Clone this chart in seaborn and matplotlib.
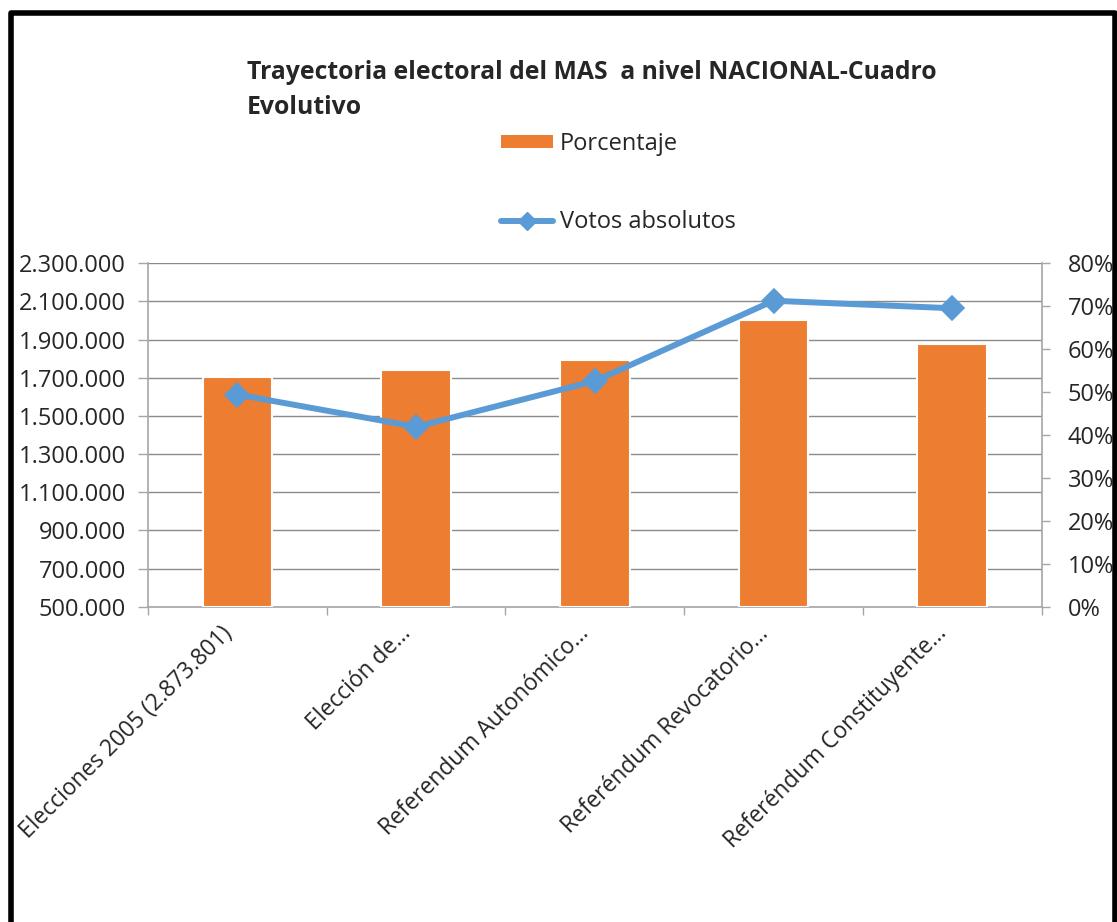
import matplotlib
matplotlib.use('Agg')
import matplotlib.pyplot as plt
import matplotlib.transforms as mtransforms
from matplotlib.lines import Line2D
from matplotlib.ticker import FuncFormatter
import seaborn as sns
import numpy as np

# data
categorias = [
    "Elecciones 2005 (2.873.801)",
    "Elección de…",
    "Referendum Autonómico…",
    "Referéndum Revocatorio…",
    "Referéndum Constituyente…",
]
porcentaje = [0.535, 0.551, 0.574, 0.669, 0.612]
votos = [1612000, 1443000, 1683000, 2103872, 2064397]

izq_ticks = list(range(500000, 2300001, 200000))
der_ticks = [i / 10 for i in range(0, 9)]

NARANJA = "#ED7D31"
AZUL = "#5B9BD5"
GRIS = "#A6A6A6"
GRID = "#8A8A8A"

sns.set_style("white")
plt.rcParams['font.family'] = ['Open Sans', 'DejaVu Sans']

fig = plt.figure(figsize=(11.17, 9.22), dpi=100)
ax = fig.add_axes([0.1325, 0.342, 0.80, 0.3724])
axb = ax.twinx()
axl = ax.twinx()

# bars (right axis, percent)
sns.barplot(x=categorias, y=porcentaje, ax=axb, color=NARANJA, width=0.39,
            saturation=1, edgecolor="white", linewidth=1.5)
# line (left axis, votes)
sns.pointplot(x=categorias, y=votos, ax=axl, color=AZUL, markers="D",
              markersize=10.5, linewidth=4.3)

# scales
ax.set_ylim(500000, 2300000)
axl.set_ylim(500000, 2300000)
axb.set_ylim(0, 0.8)
ax.set_xlim(-0.5, len(categorias) - 0.5)

# left axis with grid
ax.set_yticks(izq_ticks)
ax.yaxis.set_major_formatter(FuncFormatter(lambda v, p: f"{int(v):,}".replace(",", ".")))
ax.yaxis.grid(True, color=GRID, linewidth=1.0)
ax.tick_params(axis="y", which="major", length=7, width=1, color=GRIS,
               labelsize=17, pad=9, left=True)

# right axis
axb.set_yticks(der_ticks)
axb.yaxis.set_major_formatter(FuncFormatter(lambda v, p: f"{v:.0%}"))
axb.tick_params(axis="y", length=6, width=1, color=GRIS, labelsize=17, pad=13, right=True)
axb.set_ylabel("")
axl.set_yticks([])
axl.set_ylabel("")

# x axis: boundary ticks + rotated category labels
pos = np.arange(len(categorias))
ax.set_xticks(np.arange(-0.5, len(categorias)), [""] * (len(categorias) + 1))
ax.set_xticks(pos, categorias, minor=True)
ax.tick_params(axis="x", which="major", length=6, width=1, color=GRIS, bottom=True)
ax.tick_params(axis="x", which="minor", length=0, labelsize=16.4, pad=17)
offset = mtransforms.ScaledTranslation(-9 / 100, 0, fig.dpi_scale_trans)
for lab in ax.get_xticklabels(minor=True):
    lab.set_rotation(45)
    lab.set_ha("right")
    lab.set_va("center")
    lab.set_rotation_mode("anchor")
    lab.set_transform(lab.get_transform() + offset)

# spines
for a in (ax, axb, axl):
    for s in a.spines.values():
        s.set_visible(False)
ax.spines["left"].set_visible(True)
ax.spines["bottom"].set_visible(True)
axb.spines["right"].set_visible(True)
for s in (ax.spines["left"], ax.spines["bottom"], axb.spines["right"]):
    s.set_color(GRIS)
    s.set_linewidth(1.2)

# title
fig.text(247 / 1117, 1 - 60 / 922,
         "Trayectoria electoral del MAS  a nivel NACIONAL-Cuadro\nEvolutivo",
         ha="left", va="top", fontsize=17.8, fontweight="bold", linespacing=1.55)

# legend
handles = [
    plt.Rectangle((0, 0), 1, 1, facecolor=NARANJA, edgecolor="none"),
    Line2D([], [], color=AZUL, linewidth=4.3, marker="D", markersize=9),
]
fig.legend(handles, ["Porcentaje", "Votos absolutos"], loc="upper left",
           bbox_to_anchor=(489 / 1117, 1 - 120 / 922), frameon=False,
           fontsize=17, labelspacing=2.3, handlelength=2.2, handleheight=0.5,
           handletextpad=0.3, borderpad=0)

# outer frame (left, top, right)
fig.add_artist(Line2D([10.5 / 1117, 10.5 / 1117, 1114.5 / 1117, 1114.5 / 1117],
                      [0, 1 - 13.5 / 922, 1 - 13.5 / 922, 0],
                      transform=fig.transFigure, color="black", linewidth=4))

fig.savefig("out.png", dpi=100)
